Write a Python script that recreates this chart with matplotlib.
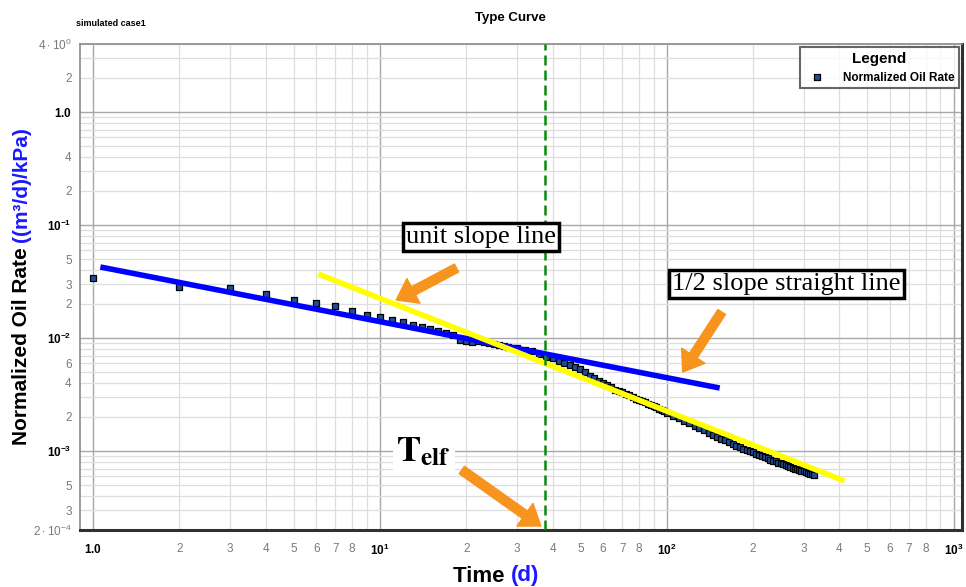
import numpy as np
import matplotlib
matplotlib.use('Agg')
import matplotlib.pyplot as plt
from matplotlib.ticker import FixedLocator, FixedFormatter

plt.rcParams['font.family'] = ['Liberation Sans', 'DejaVu Sans']
plt.rcParams['mathtext.fontset'] = 'custom'
plt.rcParams['mathtext.rm'] = 'Liberation Sans'
plt.rcParams['mathtext.bf'] = 'Liberation Sans:bold'

# simulated normalized oil rate
time_d = [1, 2, 3, 4, 5, 6, 7, 8, 9, 10, 11, 12, 13, 14, 15, 16, 17, 18, 19, 20,
          21, 22, 23, 24, 25, 26, 27, 28, 29, 30,
          32, 34, 36, 38, 40, 42, 44, 46, 48, 50, 52, 54, 56, 58, 60,
          62, 64, 66, 68, 70, 72, 74, 76, 78, 80, 82, 84, 86, 88, 90, 92, 94, 96, 98, 100,
          105, 110, 115, 120, 125, 130, 135, 140, 145, 150, 155, 160, 165, 170, 175,
          180, 185, 190, 195, 200, 205, 210, 215, 220, 225, 230, 235, 240, 245, 250,
          255, 260, 265, 270, 275, 280, 285, 290, 295, 300, 305, 310, 315, 320, 325]
oil_rate = [0.0340, 0.0283, 0.0277, 0.0245, 0.0217, 0.0204, 0.0192, 0.0172, 0.0161, 0.0152,
            0.0145, 0.0138, 0.0131, 0.0125, 0.0119, 0.0115, 0.0111, 0.0107, 0.0097, 0.0094,
            0.0092, 0.0094, 0.0092, 0.0091, 0.0089, 0.0087, 0.0085, 0.0084, 0.0082, 0.0081,
            0.0079, 0.0076, 0.0072, 0.0068, 0.0066, 0.0063, 0.0060, 0.0058, 0.0055, 0.0053,
            0.0050, 0.0046, 0.0044, 0.0042, 0.0040,
            0.0038, 0.0037, 0.0035, 0.0034, 0.0033, 0.0032, 0.0031, 0.0030, 0.0029, 0.0028,
            0.00275, 0.0027, 0.00262, 0.00255, 0.0025, 0.00243, 0.00237, 0.0023, 0.00224, 0.00218,
            0.00206, 0.00195, 0.00185, 0.00176, 0.00167, 0.00159, 0.00152, 0.00145, 0.00139, 0.00134,
            0.00129, 0.00124, 0.00119, 0.00115, 0.00111, 0.00108, 0.00105, 0.00102, 0.00100, 0.00098,
            0.00095, 0.00093, 0.00090, 0.00088, 0.00086, 0.00084, 0.00082, 0.00081, 0.00079, 0.00078,
            0.00076, 0.00075, 0.00073, 0.00072, 0.00071, 0.00070, 0.00069, 0.00068, 0.00067, 0.00066,
            0.00065, 0.00064, 0.00063, 0.00062, 0.00061]

# straight lines drawn over the data (end points)
half_slope_t = [1.06, 153]
half_slope_q = [0.0425, 0.00361]
unit_slope_t = [6.1, 417]
unit_slope_q = [0.0368, 0.000543]
t_elf = 37.6

# axis tick labels
x_major = [1, 10, 100, 1000]
x_major_labels = [r'$\mathbf{1.0}$', r'$\mathbf{10^{1}}$', r'$\mathbf{10^{2}}$', r'$\mathbf{10^{3}}$']
y_major = [1, 0.1, 0.01, 0.001]
y_major_labels = [r'$\mathbf{1.0}$', r'$\mathbf{10^{-1}}$', r'$\mathbf{10^{-2}}$', r'$\mathbf{10^{-3}}$']
x_minor_labels = {2: '2', 3: '3', 4: '4', 5: '5', 6: '6', 7: '7', 8: '8'}
y_minor_labels = {4.0: r'$4\cdot10^{0}$', 2.0: '2', 0.4: '4', 0.2: '2', 0.05: '5', 0.03: '3', 0.02: '2',
                  0.006: '6', 0.004: '4', 0.002: '2', 0.0005: '5', 0.0003: '3',
                  0.0002: r'$2\cdot10^{-4}$'}

fig = plt.figure(figsize=(9.66, 5.87), dpi=100)
ax = fig.add_axes([0.0828, 0.0971, 0.913, 0.828])
ax.set_xscale('log')
ax.set_yscale('log')
ax.set_xlim(0.9, 1070)
ax.set_ylim(2e-4, 4.0)

# ticks + grid
x_minor = [m * d for d in [1, 10, 100] for m in range(2, 10)]
ax.xaxis.set_major_locator(FixedLocator(x_major))
ax.xaxis.set_major_formatter(FixedFormatter(x_major_labels))
ax.xaxis.set_minor_locator(FixedLocator(x_minor))
ax.xaxis.set_minor_formatter(FixedFormatter([x_minor_labels.get(m, '') for d in [1, 10, 100] for m in range(2, 10)]))

y_minor = []
y_minor_lab = []
for d in [1e-4, 1e-3, 1e-2, 1e-1, 1]:
    for m in range(2, 10):
        v = round(m * d, 6)
        if 2e-4 <= v <= 4.0:
            y_minor.append(v)
            y_minor_lab.append(y_minor_labels.get(v, ''))
ax.yaxis.set_major_locator(FixedLocator(y_major))
ax.yaxis.set_major_formatter(FixedFormatter(y_major_labels))
ax.yaxis.set_minor_locator(FixedLocator(y_minor))
ax.yaxis.set_minor_formatter(FixedFormatter(y_minor_lab))

ax.tick_params(which='both', length=0, labelsize=8.5)
ax.tick_params(axis='x', which='both', pad=9)
ax.tick_params(axis='y', which='both', pad=6)
for lab in ax.get_xticklabels(minor=True) + ax.get_yticklabels(minor=True):
    lab.set_color('#7a7a7a')
ax.grid(True, which='major', color='#a8a8a8', lw=1.0)
ax.grid(True, which='minor', color='#dedede', lw=0.9)
ax.set_axisbelow(True)

for s in ['left', 'top']:
    ax.spines[s].set_color('#8a8a8a')
    ax.spines[s].set_linewidth(1.2)
for s in ['right', 'bottom']:
    ax.spines[s].set_color('#303030')
    ax.spines[s].set_linewidth(2.2)

# data
ax.scatter(time_d, oil_rate, marker='s', s=19, facecolor='#1f4e96', edgecolor='black',
           linewidth=0.9, zorder=3, label='Normalized Oil Rate')
ax.plot(half_slope_t, half_slope_q, color='#0000ff', lw=4.0, solid_capstyle='butt', zorder=4)
ax.plot(unit_slope_t, unit_slope_q, color='#ffff00', lw=4.0, solid_capstyle='butt', zorder=4)
ax.axvline(t_elf, color='#0b8a0b', lw=1.8, ls=(0, (4, 2)), zorder=5)

leg = ax.legend(loc='upper right', title='Legend', fancybox=False, frameon=True,
                borderaxespad=0.25, handletextpad=1.2, markerscale=1.0,
                prop={'weight': 'bold', 'size': 8.5})
leg.get_title().set_fontweight('bold')
leg.get_title().set_fontsize(11)
leg.get_frame().set_edgecolor('#404040')
leg.get_frame().set_linewidth(1.5)

# annotations
orange = '#f7941d'
arrow = dict(arrowstyle='simple,head_length=1.4,head_width=2.0,tail_width=0.65',
             color=orange, mutation_scale=10, shrinkA=0, shrinkB=0)
ax.annotate('', xy=(11.4, 0.0217), xytext=(18.5, 0.0416), arrowprops=arrow, zorder=6)
ax.annotate('', xy=(113.7, 0.0050), xytext=(155.5, 0.0170), arrowprops=arrow, zorder=6)
ax.annotate('', xy=(36.4, 0.000217), xytext=(19.3, 0.000679), arrowprops=arrow, zorder=6)

box = dict(boxstyle='square,pad=0.12', facecolor='white', edgecolor='black', linewidth=2.5)
ax.text(22.5, 0.0783, 'unit slope line', family='Liberation Serif', fontsize=19,
        ha='center', va='center', bbox=box, zorder=7)
ax.text(262, 0.0301, '1/2 slope straight line', family='Liberation Serif', fontsize=19,
        ha='center', va='center', bbox=box, zorder=7)
ax.text(14.2, 0.00098, r'$\mathbf{T}_{\mathbf{elf}}$', fontsize=26, ha='center', va='center',
        math_fontfamily='stix', zorder=7,
        bbox=dict(boxstyle='square,pad=0.1', facecolor='white', edgecolor='none'))

# titles
fig.text(510 / 966, 1 - 18 / 587, 'Type Curve', fontsize=9.5, fontweight='bold', ha='center', va='center')
fig.text(76 / 966, 1 - 24 / 587, 'simulated case1', fontsize=6.5, fontweight='bold', ha='left', va='center')

# two-colour axis labels
fig.canvas.draw()
r = fig.canvas.get_renderer()
yl1 = fig.text(22 / 966, 1 - 445 / 587, 'Normalized Oil Rate ', rotation=90, fontsize=15,
               fontweight='bold', ha='center', va='bottom')
bb = yl1.get_window_extent(r)
fig.text(22 / 966, bb.y1 / fig.bbox.height, '((m³/d)/kPa)', rotation=90, fontsize=15,
         fontweight='bold', color='#1a1aff', ha='center', va='bottom')
xl1 = fig.text(453 / 966, 1 - 576 / 587, 'Time ', fontsize=16, fontweight='bold', ha='left', va='center')
bb = xl1.get_window_extent(r)
fig.text(bb.x1 / fig.bbox.width, 1 - 576 / 587, '(d)', fontsize=16, fontweight='bold',
         color='#1a1aff', ha='left', va='center')

plt.savefig('out.png', dpi=100)
plt.close()
